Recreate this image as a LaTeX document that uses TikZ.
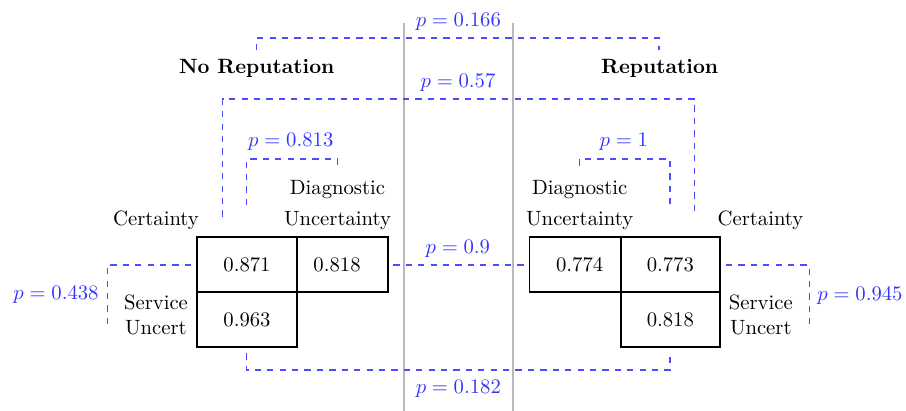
\documentclass[tikz,border=0pt]{standalone}
\begin{document}
\begin{tikzpicture}[x=0.4834pt,y=-0.4834pt,
  pdash/.style={draw=blue!70, dashed, line width=0.6pt},
  plabel/.style={text=blue!80, anchor=base, inner sep=0pt},
  txt/.style={anchor=base, inner sep=0pt},
  cell/.style={draw=black, line width=0.9pt, minimum height=26.6pt, inner sep=0pt},
  wide/.style={cell, minimum width=48pt},
  narrow/.style={cell, minimum width=44pt},
  sep/.style={draw=gray!55, line width=0.6pt}]
\useasboundingbox (0,0) rectangle (906,411);

% separators
\coordinate (s1t) at (404,23); \coordinate (s1b) at (404,411);
\coordinate (s2t) at (513,23); \coordinate (s2b) at (513,411);
\draw[sep] (s1t) -- (s1b);
\draw[sep] (s2t) -- (s2b);

% headings
\node[txt, font=\bfseries] (norep) at (256.7,73.3) {No Reputation};
\node[txt, font=\bfseries] (rep) at (659.7,73.3) {Reputation};

% left labels
\node[txt] (lcertL) at (156,226) {Certainty};
\node[txt, align=center] (ldiagL) at (337.5,226) {Diagnostic\\[3pt]Uncertainty};
\node[txt, align=center] (lservL) at (156,334.3) {Service\\Uncert};
% right labels
\node[txt] (rcertL) at (760.5,226) {Certainty};
\node[txt, align=center] (rdiagL) at (579.7,226) {Diagnostic\\[3pt]Uncertainty};
\node[txt, align=center] (rservL) at (760.8,334.3) {Service\\Uncert};

% cells left
\node[wide] (c871) at (247,264.8) {0.871};
\node[narrow] (c818a) at (342.2,264.8) {0.818\hspace*{5pt}};
\node[wide] (c963) at (247,319.5) {0.963};
% cells right
\node[narrow] (c774) at (575,264.8) {\hspace*{4.5pt}0.774};
\node[wide] (c773) at (670.3,264.8) {0.773};
\node[wide] (c818b) at (670.3,319.5) {0.818};

% p = 0.166
\coordinate (a1) at (256.7,50); \coordinate (a2) at (659,50); \coordinate (h1) at (0,38);
\draw[pdash] (a1) -- (a1 |- h1) -- (a2 |- h1) -- (a2);
\node[plabel] (p166) at (458.3,26.7) {$p = 0.166$};

% p = 0.57
\coordinate (b1) at (222.7,216.7); \coordinate (b2) at (694.3,216); \coordinate (h2) at (0,99);
\draw[pdash] (b1) -- (b1 |- h2) -- (b2 |- h2) -- (b2);
\node[plabel] (p57) at (458,87.3) {$p = 0.57$};

% p = 0.813
\coordinate (d1) at (246.7,205); \coordinate (d2) at (337.7,165); \coordinate (h3) at (0,159);
\draw[pdash] (d1) -- (d1 |- h3) -- (d2 |- h3) -- (d2);
\node[plabel] (p813) at (290.8,146.7) {$p = 0.813$};

% p = 1
\coordinate (e1) at (579.3,165.7); \coordinate (e2) at (670,205);
\draw[pdash] (e1) -- (e1 |- h3) -- (e2 |- h3) -- (e2);
\node[plabel] (p1) at (623.8,146.7) {$p = 1$};

% p = 0.9
\coordinate (f1) at (393.3,265); \coordinate (f2) at (524,265);
\draw[pdash] (f1) -- (f2);
\node[plabel] (p9) at (457.8,253.3) {$p = 0.9$};

% p = 0.438
\coordinate (g1) at (191,265); \coordinate (g2) at (107.3,328.3);
\draw[pdash] (g1) -| (g2);
\node[plabel] (p438) at (56,300) {$p = 0.438$};

% p = 0.945
\coordinate (k1) at (726,265); \coordinate (k2) at (809.3,328.3);
\draw[pdash] (k1) -| (k2);
\node[plabel] (p945) at (860,301) {$p = 0.945$};

% p = 0.182
\coordinate (m1) at (246.7,353.3); \coordinate (m2) at (670,353.3); \coordinate (h4) at (0,370);
\draw[pdash] (m1) -- (m1 |- h4) -- (m2 |- h4) -- (m2);
\node[plabel] (p182) at (458.3,393.3) {$p = 0.182$};
\end{tikzpicture}
\end{document}
